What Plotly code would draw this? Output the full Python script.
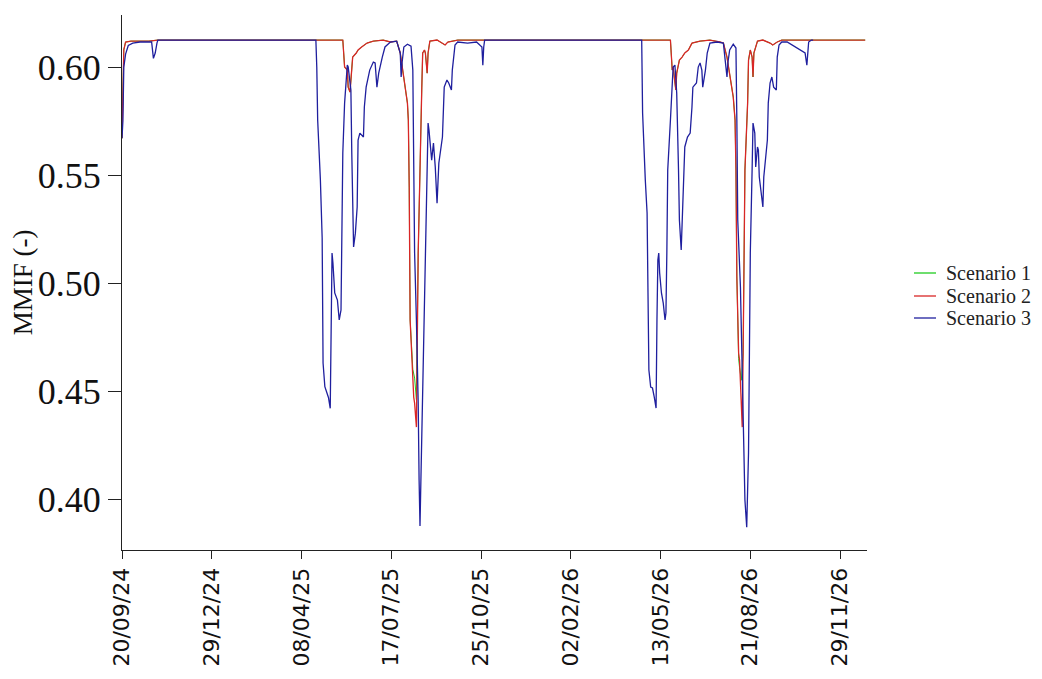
import pandas as pd
import plotly.graph_objects as go

START = "2024-09-20"

# Scenario 3 (blue): day offset from START, MMIF value
s3_day = [0, 1, 2, 4, 7, 12, 20, 33, 35, 37, 39, 40,
          216, 217, 218, 221, 223, 224, 226, 230, 232, 233, 234, 235, 237, 240, 242, 244,
          245, 246, 248, 251, 252, 254, 255, 256, 257, 258, 260, 262, 263, 265, 269, 270,
          272, 274, 276, 280, 282, 284, 286, 290, 293, 299, 306, 310, 311, 312, 314, 318,
          322, 324, 325, 326, 328, 330, 331, 332, 333, 335, 337, 338, 340, 341, 342, 344,
          345, 347, 349, 351, 352, 353, 357, 359, 362, 364, 367, 368, 371, 374, 385, 395,
          401, 402, 403, 404,
          579, 580, 583, 585, 586, 587, 589, 591, 593, 595, 596, 597, 598, 599, 601, 603,
          605, 606, 607, 608, 611, 613, 614, 616, 617, 618, 620, 621, 623, 624, 625, 627,
          630, 633, 635, 636, 640, 642, 644, 646, 647, 650, 652, 655, 663, 670, 672, 674,
          675, 677, 681, 684, 685, 686, 689, 690, 691, 692, 693, 694, 696, 697, 698, 699,
          700, 702, 703, 705, 706, 708, 709, 710, 712, 714, 715, 716, 719, 720, 722, 724,
          726, 729, 730, 732, 735, 741, 761, 763, 764, 765, 768, 770, 828]
s3_val = [0.567, 0.575, 0.600, 0.606, 0.610, 0.6111, 0.6116, 0.6116, 0.604, 0.6065, 0.6112, 0.6125,
          0.6125, 0.600, 0.5755, 0.548, 0.521, 0.463, 0.452, 0.447, 0.442, 0.4768, 0.5139, 0.5093,
          0.4954, 0.4921, 0.4829, 0.4875,
          0.5292, 0.5602, 0.5833, 0.6009, 0.600, 0.5907, 0.5894, 0.5602, 0.5292, 0.5167, 0.5231,
          0.5352, 0.5662, 0.5694, 0.5676, 0.5815,
          0.5907, 0.594, 0.5986, 0.6023, 0.6019, 0.5907, 0.5972, 0.6046, 0.6093, 0.6116, 0.612,
          0.6065, 0.5954, 0.6019, 0.6093, 0.6106,
          0.6097, 0.5986, 0.5602, 0.5139, 0.4829, 0.4444, 0.4088, 0.3875, 0.4088, 0.4518, 0.4829,
          0.5139, 0.5444, 0.5741, 0.5708, 0.5630,
          0.5569, 0.5648, 0.5537, 0.5370, 0.5477, 0.5556, 0.5676, 0.5907, 0.594, 0.5926, 0.5894,
          0.5986, 0.6102, 0.6116, 0.6111, 0.6116,
          0.6093, 0.6009, 0.6093, 0.6125,
          0.6125, 0.5787, 0.5477, 0.5324, 0.4954, 0.4597, 0.4518, 0.4514, 0.4472, 0.4421, 0.4829,
          0.5106, 0.5139, 0.5046, 0.4954, 0.4907,
          0.4829, 0.4861, 0.5139, 0.5523, 0.5755, 0.594, 0.600, 0.6009, 0.5907, 0.5880, 0.5523,
          0.5292, 0.5153, 0.5259, 0.5444, 0.5630,
          0.5676, 0.5694, 0.5815, 0.5907, 0.5926, 0.600, 0.6019, 0.5986, 0.5907, 0.5986, 0.6065,
          0.6111, 0.6116, 0.6111, 0.6032, 0.5954,
          0.6019, 0.6079, 0.6106, 0.6088, 0.5755, 0.5292, 0.4981, 0.4750, 0.4611, 0.4366, 0.4134,
          0.3995, 0.387, 0.400, 0.4213,
          0.4676, 0.5139, 0.5523, 0.5741, 0.5694, 0.5537, 0.5630, 0.5616, 0.5491, 0.5417, 0.5352,
          0.5491, 0.5537, 0.5662, 0.5833, 0.5926,
          0.5954, 0.5907, 0.5894, 0.6046, 0.6102, 0.6116, 0.6116, 0.6065, 0.6009, 0.6070, 0.6116,
          0.6125, 0.6125]

# Scenario 2 (red)
s2_day = [0, 1, 2, 4, 10, 30, 40,
          246, 248, 251, 252, 254, 256, 257, 261, 263, 267, 273, 280, 291, 299, 306, 310, 313,
          318, 319, 320, 321, 322, 323, 324, 325, 326, 328, 330, 332, 334, 335, 337, 338, 340,
          341, 343, 351, 357, 360, 363, 374,
          611, 612, 613, 614, 616, 617, 618, 621, 624, 627, 631, 635, 644, 655, 666, 670, 674,
          677, 681, 683, 684, 685, 686, 687, 688, 690, 691, 692, 693, 694, 697, 698, 700, 702,
          703, 704, 708, 714, 722, 725, 730, 735, 828]
s2_val = [0.567, 0.590, 0.608, 0.6116, 0.6120, 0.6120, 0.6125,
          0.6125, 0.6000, 0.5986, 0.5907, 0.5884, 0.5986, 0.6046, 0.6065, 0.6079, 0.6093, 0.6111,
          0.6120, 0.6125, 0.6116, 0.6120, 0.6065, 0.5986,
          0.5833, 0.5755, 0.5444, 0.4829, 0.4736, 0.4657, 0.4611, 0.4472, 0.4444, 0.4333, 0.5139,
          0.5602, 0.5907, 0.6065, 0.6079, 0.6065, 0.5972,
          0.6065, 0.6120, 0.6125, 0.6111, 0.6102, 0.6116, 0.6125,
          0.6125, 0.6065, 0.5986, 0.600, 0.594, 0.5894, 0.5972, 0.6032, 0.6046, 0.6065, 0.6079,
          0.6111, 0.6120, 0.6125, 0.6116, 0.6111, 0.6046,
          0.5972, 0.5861, 0.5755, 0.5523, 0.5028, 0.4796, 0.4676, 0.4643, 0.4444, 0.4333, 0.4676,
          0.5139, 0.5523, 0.5833, 0.6032, 0.6079, 0.6046,
          0.5954, 0.6065, 0.6120, 0.6125, 0.6111, 0.6102, 0.6116, 0.6125, 0.6125]

# Scenario 1 (green): almost identical to scenario 2, slightly different in the deepest dips
s1_day = [0, 1, 2, 4, 10, 30, 40,
          246, 248, 251, 252, 254, 256, 257, 261, 263, 267, 273, 280, 291, 299, 306, 310, 313,
          318, 319, 320, 321, 322, 323, 324, 326, 328, 330, 332, 334, 335, 337, 338, 340,
          341, 343, 351, 357, 360, 363, 374,
          611, 612, 613, 614, 616, 617, 618, 621, 624, 627, 631, 635, 644, 655, 666, 670, 674,
          677, 681, 683, 684, 685, 686, 687, 688, 690, 692, 693, 694, 697, 698, 700, 702,
          703, 704, 708, 714, 722, 725, 730, 735, 828]
s1_val = [0.567, 0.590, 0.608, 0.6116, 0.6120, 0.6120, 0.6125,
          0.6125, 0.6000, 0.5986, 0.5907, 0.5884, 0.5986, 0.6046, 0.6065, 0.6079, 0.6093, 0.6111,
          0.6120, 0.6125, 0.6116, 0.6120, 0.6065, 0.5986,
          0.5833, 0.5755, 0.5444, 0.4829, 0.4736, 0.4620, 0.4600, 0.4560, 0.4460, 0.5139,
          0.5602, 0.5907, 0.6065, 0.6079, 0.6065, 0.5972,
          0.6065, 0.6120, 0.6125, 0.6111, 0.6102, 0.6116, 0.6125,
          0.6125, 0.6065, 0.5986, 0.600, 0.594, 0.5894, 0.5972, 0.6032, 0.6046, 0.6065, 0.6079,
          0.6111, 0.6120, 0.6125, 0.6116, 0.6111, 0.6046,
          0.5972, 0.5861, 0.5755, 0.5523, 0.5028, 0.4796, 0.4650, 0.4610, 0.4550, 0.4676,
          0.5139, 0.5523, 0.5833, 0.6032, 0.6079, 0.6046,
          0.5954, 0.6065, 0.6120, 0.6125, 0.6111, 0.6102, 0.6116, 0.6125, 0.6125]

series_names = ["Scenario 1", "Scenario 2", "Scenario 3"]
series_colors = ["#1fcc1f", "#d92626", "#1f1f9e"]
series_widths = [1.0, 1.3, 1.3]

x_tick_start = "2024-09-20"
x_tick_step_days = 100
x_range = ["2024-09-20", "2026-12-29"]
y_range = [0.3764, 0.6241]
y_ticks = [0.40, 0.45, 0.50, 0.55, 0.60]


def to_dates(days):
    return pd.Timestamp(START) + pd.to_timedelta(days, unit="D")


fig = go.Figure()
for name, color, w, d, v in zip(series_names, series_colors, series_widths,
                                [s1_day, s2_day, s3_day], [s1_val, s2_val, s3_val]):
    fig.add_trace(go.Scatter(x=to_dates(d), y=v, mode="lines", name=name,
                             line=dict(color=color, width=w), showlegend=False))

# legend drawn as line samples + text labels (paper coordinates of the plot area)
leg_y_px = [273, 296, 318]
plot_left, plot_w = 122, 745
plot_top, plot_h = 15, 535
for name, color, ypx in zip(series_names, series_colors, leg_y_px):
    yp = 1 - (ypx - plot_top) / plot_h
    fig.add_shape(type="line", xref="paper", yref="paper",
                  x0=(914 - plot_left) / plot_w, x1=(936 - plot_left) / plot_w, y0=yp, y1=yp,
                  line=dict(color=color, width=1.3))
    fig.add_annotation(text=name, xref="paper", yref="paper",
                       x=(944 - plot_left) / plot_w, y=yp, xanchor="left", yanchor="middle",
                       showarrow=False,
                       font=dict(family="Liberation Serif", size=20, color="#222"))

# page has an 8px body margin: figure placed at (8, 8), kept small enough to avoid scrollbars
fig.update_layout(
    width=1026, height=663,
    margin=dict(l=114, r=167, t=7, b=121),
    paper_bgcolor="white", plot_bgcolor="white",
    showlegend=False,
)
fig.update_xaxes(
    range=x_range, type="date", automargin=False,
    tick0=x_tick_start, dtick=x_tick_step_days * 86400000, tickformat="%d/%m/%y",
    tickangle=-90, ticks="outside", ticklen=8, tickcolor="#222",
    showline=True, linecolor="#222", linewidth=1, showgrid=False, zeroline=False,
    tickfont=dict(family="DejaVu Sans", size=22, color="#111"),
)
fig.update_yaxes(
    range=y_range, tickvals=y_ticks, ticktext=[f"{t:.2f}" for t in y_ticks],
    automargin=False,
    ticks="outside", ticklen=13, tickcolor="#222",
    showline=True, linecolor="#222", linewidth=1, showgrid=False, zeroline=False,
    tickfont=dict(family="Liberation Serif", size=36, color="#111"),
    title=dict(text="MMIF (-)", font=dict(family="Liberation Serif", size=27, color="#111"),
               standoff=3),
)

fig.write_html("out.html")
